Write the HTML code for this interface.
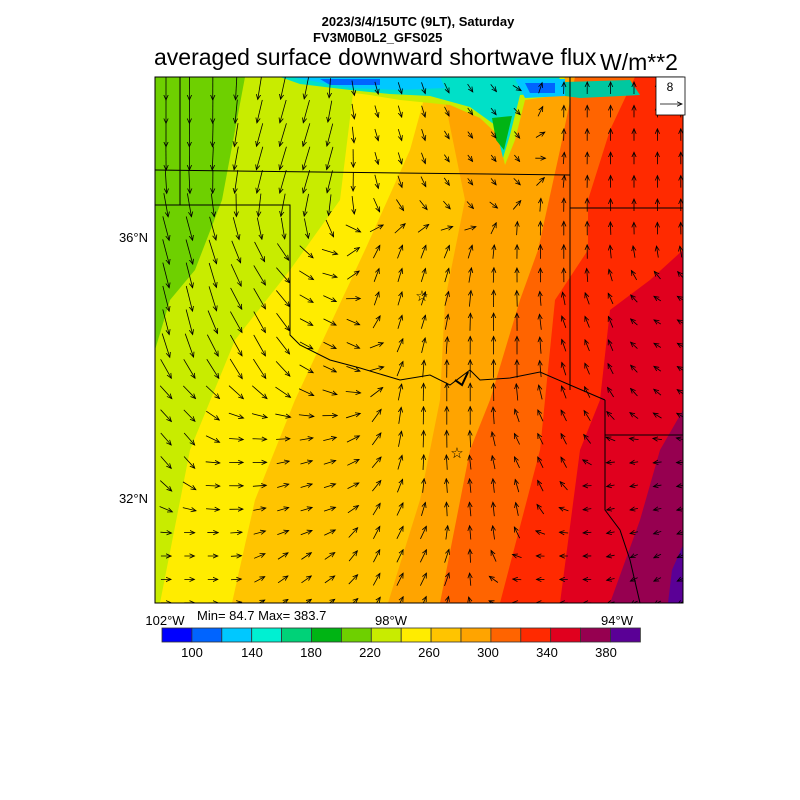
<!DOCTYPE html>
<html><head><meta charset="utf-8"><style>
body{margin:0;background:#fff;width:800px;height:800px;overflow:hidden}
svg{display:block}
text{font-family:"Liberation Sans",sans-serif}
</style></head><body>
<svg id="s" width="800" height="800" viewBox="0 0 800 800">
<defs><clipPath id="c"><rect x="155" y="77" width="528" height="526"/></clipPath>
<marker id="ah" markerWidth="6" markerHeight="6" refX="5" refY="3" orient="auto" markerUnits="userSpaceOnUse"><path d="M0,0.8 L5,3 L0,5.2" fill="none" stroke="#000" stroke-width="0.8"/></marker></defs>
<text x="418" y="26" font-size="13" font-weight="bold" text-anchor="middle">2023/3/4/15UTC (9LT), Saturday</text>
<text x="313" y="42" font-size="13" font-weight="bold">FV3M0B0L2_GFS025</text>
<text x="154" y="65" font-size="23">averaged surface downward shortwave flux</text>
<text x="600" y="70" font-size="23">W/m**2</text>
<g clip-path="url(#c)">
<rect x="155" y="77" width="528" height="526" fill="#6ed000"/>
<polygon points="245,77 683,77 683,603 155,603 155,350 170,300 195,270 222,200" fill="#c8ec00"/>
<polygon points="355,77 683,77 683,603 160,603 190,450 235,340 290,270 340,200" fill="#ffec00"/>
<polygon points="430,77 683,77 683,603 232,603 255,500 295,400 365,250 410,150" fill="#ffc400"/>
<polygon points="440,77 683,77 683,603 388,603 420,500 440,400 445,300 465,200" fill="#ffa400"/>
<polygon points="575,77 683,77 683,603 440,603 470,450 490,400 520,300 538,250 560,150" fill="#ff6400"/>
<polygon points="635,77 683,77 683,603 500,603 540,450 555,300 588,250 588,200 610,130" fill="#ff2a00"/>
<polygon points="683,250 683,603 560,603 580,450 600,400 610,310 650,280" fill="#e0001e"/>
<polygon points="683,410 683,603 610,603 640,520 660,450" fill="#960050"/>
<polygon points="683,545 683,603 668,603 672,570" fill="#5a0096"/>
<path d="M265,77 L565,77 L560,95 L525,100 L515,140 L505,165 L498,135 L480,118 L450,105 L400,100 L370,95 L330,90 L290,86Z" fill="#c8ec00"/>
<path d="M280,77 L560,77 L555,92 L520,95 L510,135 L503,158 L495,125 L470,107 L430,96 L390,94 L350,90 L300,84Z" fill="#00e0c8"/>
<path d="M290,77 L440,77 L445,88 L400,90 L350,88Z" fill="#00c8ff"/>
<path d="M320,79 L380,79 L380,85 L330,85Z" fill="#0064ff"/>
<path d="M515,79 L565,79 L565,96 L525,98Z" fill="#00c8ff"/>
<path d="M525,83 L555,83 L555,93 L530,93Z" fill="#0064ff"/>
<path d="M565,82 L630,80 L640,95 L580,98 L565,96Z" fill="#00c8a0"/>
<path d="M492,118 L512,116 L504,150 L496,140Z" fill="#00b414"/>
<g fill="none" stroke="#000" stroke-width="1">
<path d="M180,77 V205 M155,170 L400,173 L570,175 M155,205 H290 V335 L300,345 L330,360 L360,368 L400,380 L430,375 L450,385 L470,370 L480,380 L510,378 L540,372 L570,385 L605,400 M570,77 V390 M570,208 H683 M605,400 V510 L620,530 L630,560 L640,603 M605,435 H683"/>
<path d="M455,380 L462,385 L468,372" stroke-width="2"/>
</g>
<g id="arr" stroke="#000" stroke-width="0.8" fill="none"></g>
</g>
<rect x="155" y="77" width="528" height="526" fill="none" stroke="#000" stroke-width="1"/>
<rect x="656" y="77" width="29" height="38" fill="#fff" stroke="#000" stroke-width="0.8"/>
<text x="670" y="91" font-size="12" text-anchor="middle">8</text>
<line x1="660" y1="104" x2="682" y2="104" stroke="#000" stroke-width="0.8" marker-end="url(#ah)"/>
<text x="422" y="301" font-size="15" text-anchor="middle">☆</text>
<text x="457" y="458" font-size="15" text-anchor="middle">☆</text>
<text x="148" y="242" font-size="13" text-anchor="end">36°N</text>
<text x="148" y="503" font-size="13" text-anchor="end">32°N</text>
<text x="165" y="625" font-size="13" text-anchor="middle">102°W</text>
<text x="391" y="625" font-size="13" text-anchor="middle">98°W</text>
<text x="617" y="625" font-size="13" text-anchor="middle">94°W</text>
<text x="197" y="620" font-size="13">Min= 84.7 Max= 383.7</text>
<g id="cb" stroke="#333" stroke-width="0.8"></g>
<g font-size="13" text-anchor="middle">
<text x="192" y="657">100</text><text x="252" y="657">140</text><text x="311" y="657">180</text><text x="370" y="657">220</text><text x="429" y="657">260</text><text x="488" y="657">300</text><text x="547" y="657">340</text><text x="606" y="657">380</text>
</g>
</svg>
<script>
var cols=["#0000ff","#0064ff","#00c8ff","#00f0d2","#00d278","#00b414","#6ed000","#c8ec00","#ffec00","#ffc400","#ffa400","#ff6400","#ff2a00","#e0001e","#960050","#5a0096"];
var ns="http://www.w3.org/2000/svg",cb=document.getElementById("cb");
for(var i=0;i<16;i++){var r=document.createElementNS(ns,"rect");r.setAttribute("x",162+i*29.9);r.setAttribute("y",628);r.setAttribute("width",29.9);r.setAttribute("height",14);r.setAttribute("fill",cols[i]);cb.appendChild(r);}
var P=[[170,100,0,1,24],[300,150,-0.3,1,24],[400,130,0.3,1,12],[480,150,0.6,0.8,8],[600,120,0,-1,12],[660,200,0,-1,12],
[180,300,0.25,1,26],[250,330,0.5,0.9,24],[330,330,1,0.5,14],[400,300,0.3,-1,14],[500,350,0,-1,18],[600,330,-0.4,-1,12],[660,330,-1,-0.6,8],
[180,450,0.6,0.7,16],[230,470,1,0,14],[300,500,1,-0.3,12],[200,570,1,0,10],[300,580,1,-0.7,12],[400,550,0.5,-1,14],[480,500,-0.1,-1,14],
[540,450,-0.5,-1,12],[620,500,-1,0.2,8],[660,580,-1,0.5,8],[560,580,-1,0,8],[460,400,0,-1,18],[560,250,0,-1,14]];
var g=document.getElementById("arr");
for(var y=88;y<603;y+=23.4)for(var x=166;x<683;x+=23.4){
 var su=0,sv=0,sl=0,sw=0;
 for(var k=0;k<P.length;k++){var p=P[k],d2=(x-p[0])*(x-p[0])+(y-p[1])*(y-p[1])+100,w=1/(d2*d2);
  var m=Math.hypot(p[2],p[3]);su+=w*p[2]/m;sv+=w*p[3]/m;sl+=w*p[4];sw+=w;}
 var m=Math.hypot(su,sv)||1,L=sl/sw,u=su/m*L,v=sv/m*L;
 var l=document.createElementNS(ns,"line");
 l.setAttribute("x1",x-u/2);l.setAttribute("y1",y-v/2);l.setAttribute("x2",x+u/2);l.setAttribute("y2",y+v/2);
 l.setAttribute("marker-end","url(#ah)");g.appendChild(l);}
</script>
</body></html>
